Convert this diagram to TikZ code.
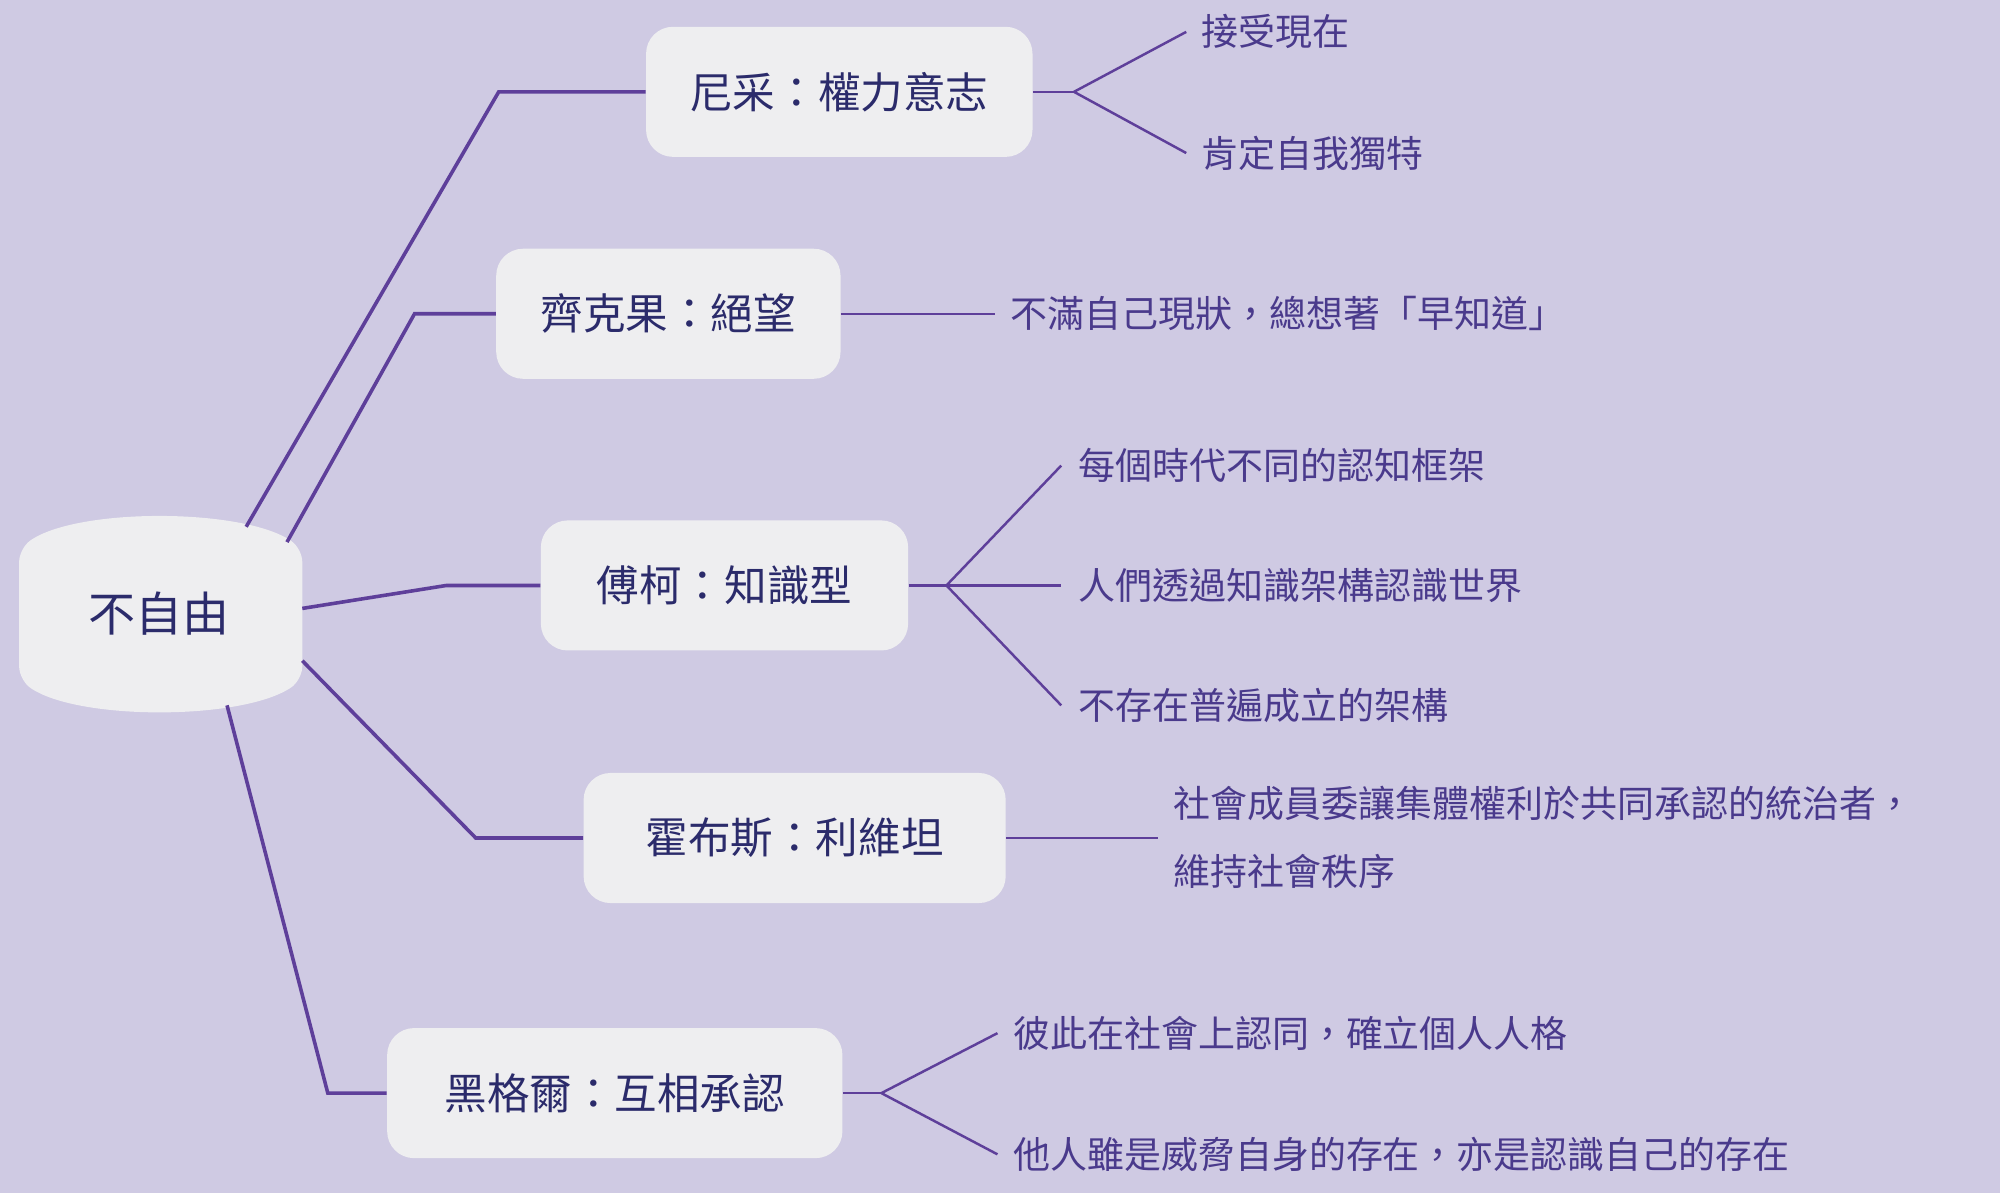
\documentclass[tikz,border=0pt]{standalone}
\usepackage{fontspec}
\setmainfont{Noto Sans CJK TC}
\usetikzlibrary{math}
\definecolor{bgc}{HTML}{CFCAE3}
\definecolor{linec}{HTML}{5E3F9A}
\definecolor{boxc}{HTML}{EEEEF0}
\definecolor{ink}{HTML}{2B2B6B}
\definecolor{leafink}{HTML}{4A3A8C}
\tikzset{
  topic/.style={fill=boxc, rounded corners=12pt, minimum height=2.04cm, text=ink, font=\fontsize{19}{22}\selectfont},
  leaf/.style={anchor=west, text=leafink, font=\fontsize{16.5}{19}\selectfont, inner sep=0pt},
  branch/.style={draw=linec, line width=1.6pt},
  twig/.style={draw=linec, line width=1.1pt}
}
\begin{document}
\begin{tikzpicture}[x=0.02cm, y=-0.02cm]
    \fill[bgc] (0,0) rectangle (1568,935);
    \useasboundingbox (0,0) rectangle (1568,935);
    % root
    \fill[boxc, rounded corners=6pt] (15,430) .. controls (60,398) and (190,398) .. (237,430) -- (237,533)
        .. controls (190,565) and (60,565) .. (15,533) -- cycle;
    \node[text=ink, font=\fontsize{21}{24}\selectfont] (root) at (125,481) {不自由};

    % topics
    \node[topic, minimum width=6.06cm] (nietz) at (658,72) {尼采：權力意志};
    \node[topic, minimum width=5.4cm] (kierk) at (524,246) {齊克果：絕望};
    \node[topic, minimum width=5.76cm] (fouc) at (568,459) {傅柯：知識型};
    \node[topic, minimum width=6.62cm] (hobb) at (623,657) {霍布斯：利維坦};
    \node[topic, minimum width=7.14cm] (hegel) at (482,857) {黑格爾：互相承認};

    \coordinate (r1) at (193,413);
    \coordinate (r2) at (225,425);
    \coordinate (r3) at (237,477);
    \coordinate (r4) at (237,518);
    \coordinate (r5) at (178,553);
    \draw[branch] (r1) -- (391,72) -- (nietz.west);
    \draw[branch] (r2) -- (325,246) -- (kierk.west);
    \draw[branch] (r3) -- (350,459) -- (fouc.west);
    \draw[branch] (r4) -- (373,657) -- (hobb.west);
    \draw[branch] (r5) -- (257,857) -- (hegel.west);

    % leaves
    \node[leaf] (n1) at (942,25) {接受現在};
    \node[leaf] (n2) at (942,120) {肯定自我獨特};
    \coordinate (fn) at (842,72);
    \draw[twig] (nietz.east) -- (fn);
    \draw[twig] (fn) -- (930,25);
    \draw[twig] (fn) -- (930,120);

    \node[leaf] (k1) at (792,246) {不滿自己現狀，總想著「早知道」};
    \draw[twig] (kierk.east) -- (780,246);

    \node[leaf] (f1) at (845,365) {每個時代不同的認知框架};
    \node[leaf] (f2) at (845,459) {人們透過知識架構認識世界};
    \node[leaf] (f3) at (845,553) {不存在普遍成立的架構};
    \coordinate (ff) at (742,459);
    \draw[twig] (fouc.east) -- (ff);
    \draw[twig] (ff) -- (832,365);
    \draw[twig] (ff) -- (832,459);
    \draw[twig] (ff) -- (832,553);

    \node[leaf] (h1) at (920,630) {社會成員委讓集體權利於共同承認的統治者，};
    \node[leaf] (h2) at (920,683) {維持社會秩序};
    \draw[twig] (hobb.east) -- (908,657);

    \node[leaf] (g1) at (794,810) {彼此在社會上認同，確立個人人格};
    \node[leaf] (g2) at (794,905) {他人雖是威脅自身的存在，亦是認識自己的存在};
    \coordinate (fg) at (691,857);
    \draw[twig] (hegel.east) -- (fg);
    \draw[twig] (fg) -- (782,810);
    \draw[twig] (fg) -- (782,905);
\end{tikzpicture}
\end{document}
